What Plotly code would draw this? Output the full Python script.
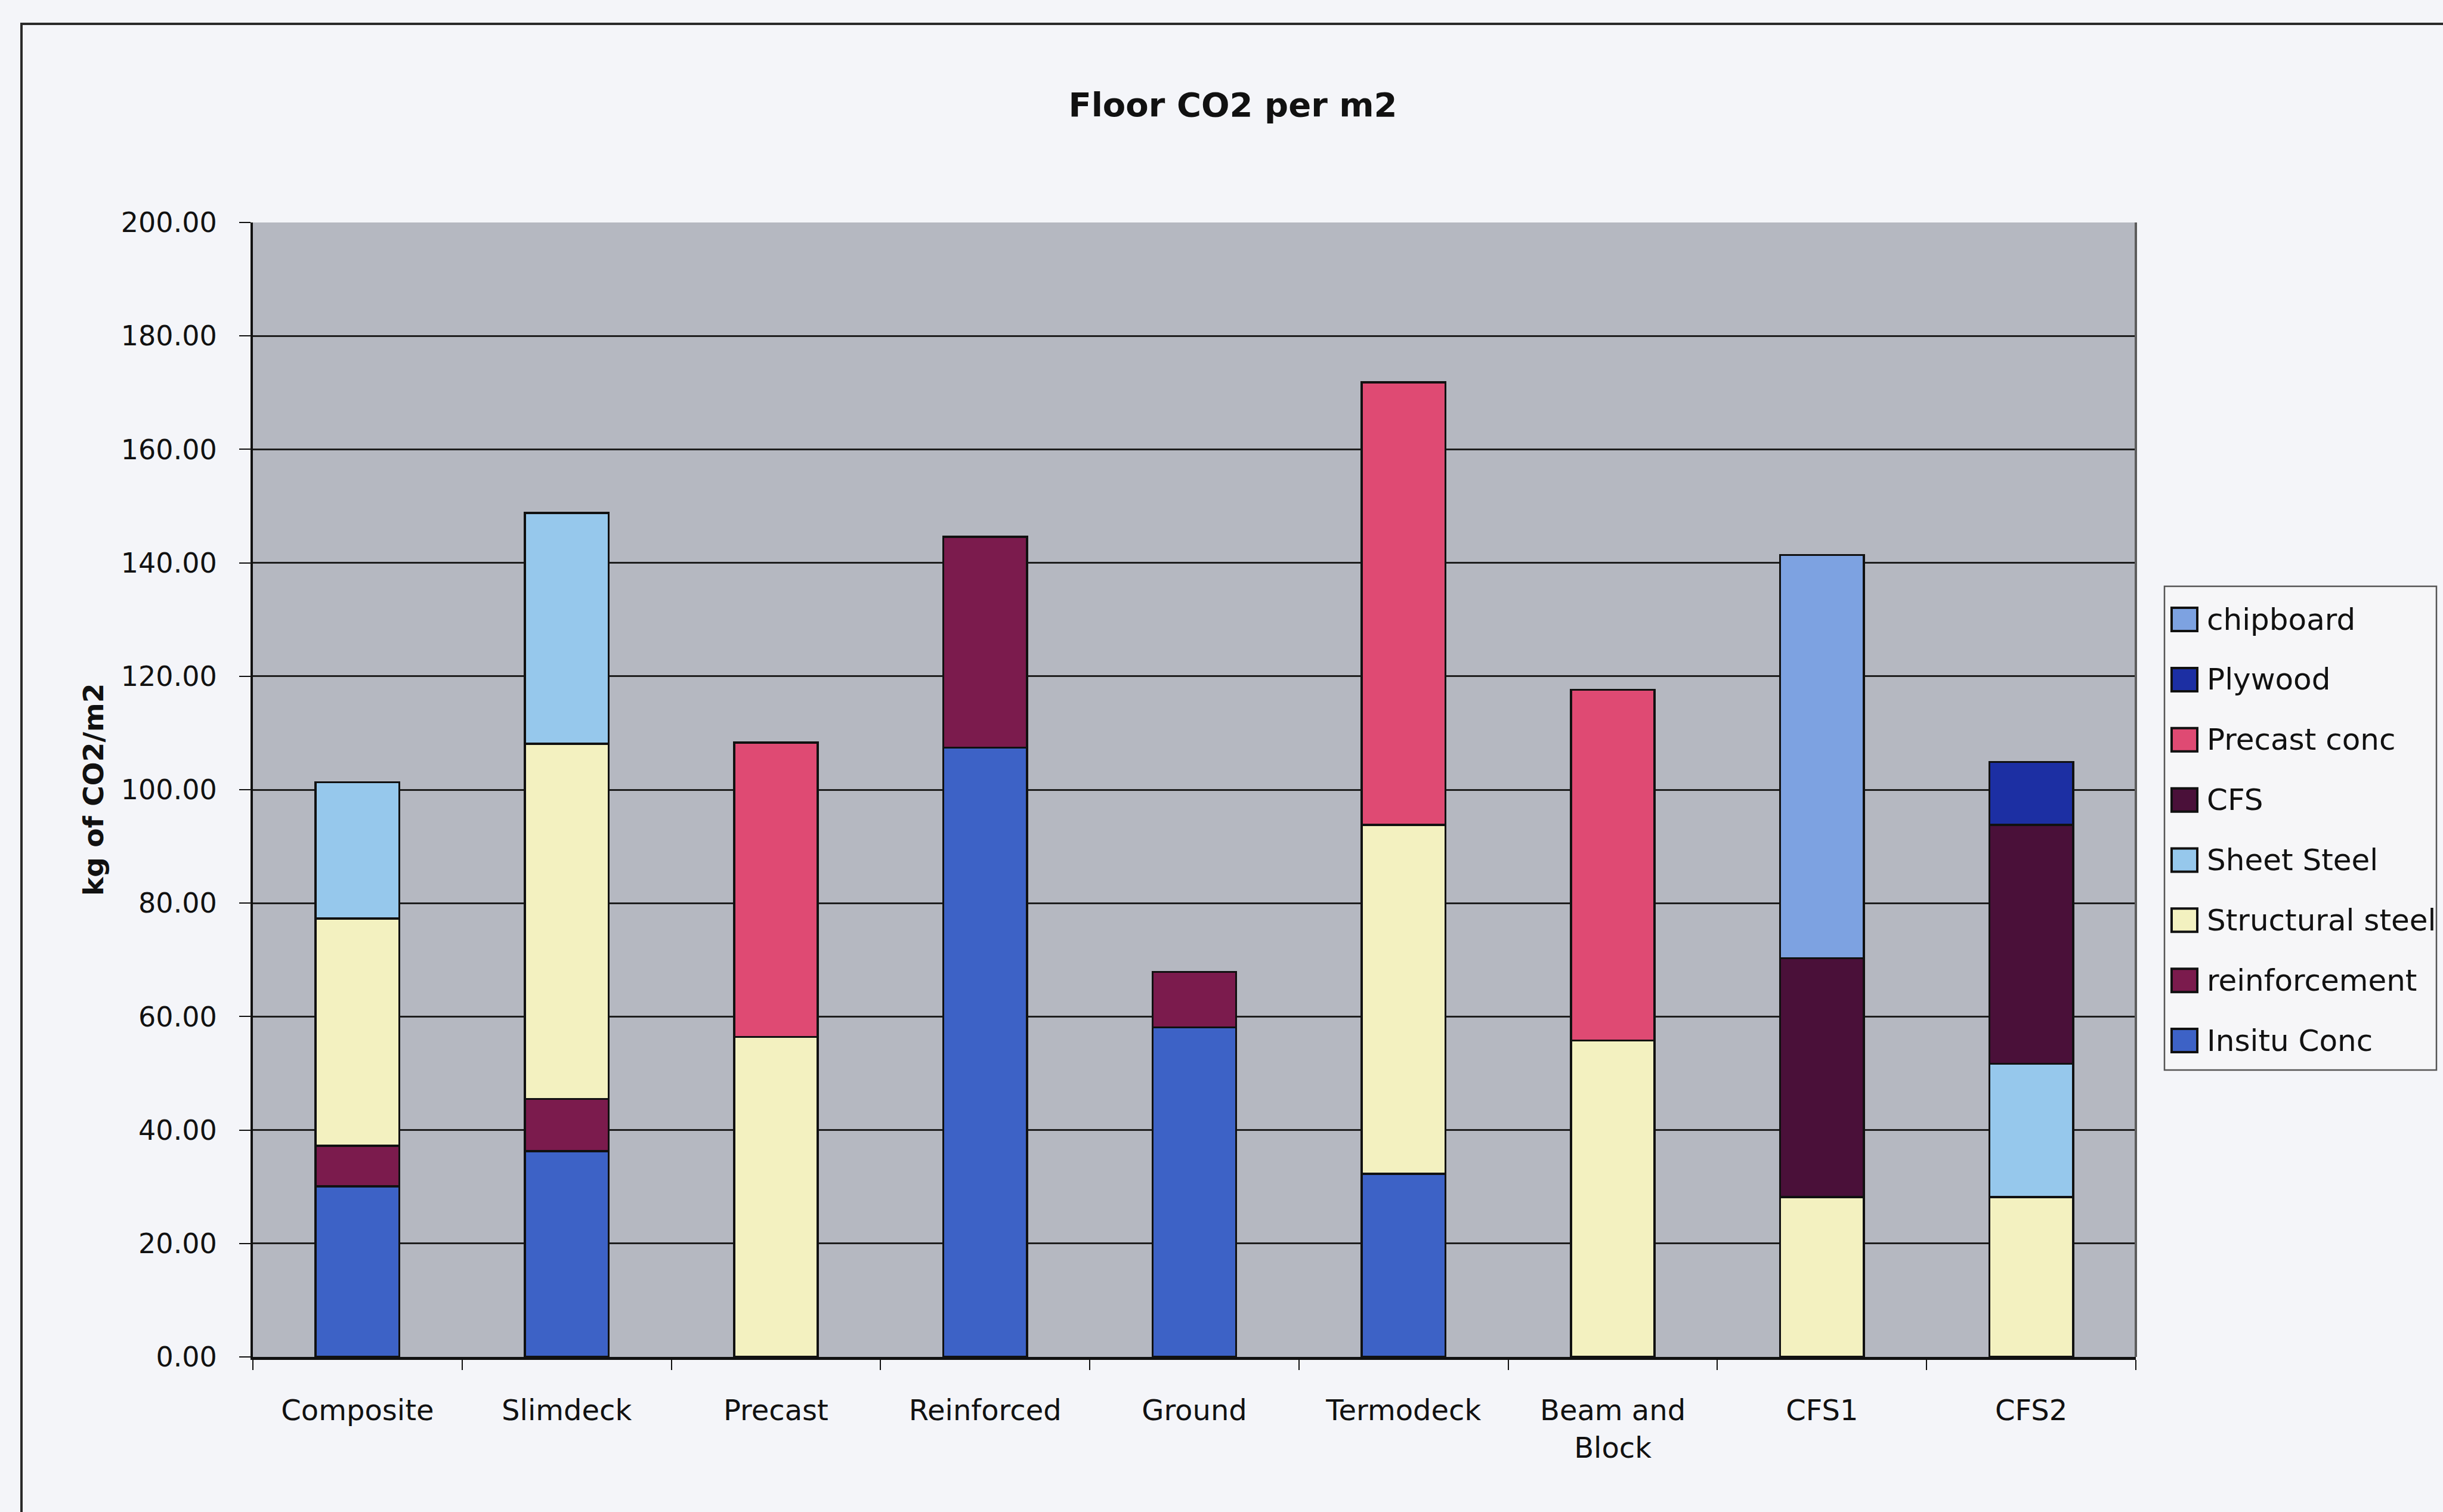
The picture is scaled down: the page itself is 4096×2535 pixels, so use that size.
import plotly.graph_objects as go

# ---- data (kg CO2 per m2 of floor, by material) ----
categories = ["Composite", "Slimdeck", "Precast", "Reinforced", "Ground",
              "Termodeck", "Beam and Block", "CFS1", "CFS2"]
tick_text = ["Composite", "Slimdeck", "Precast", "Reinforced", "Ground",
             "Termodeck", "Beam and<br>Block", "CFS1", "CFS2"]

insitu_conc      = [30.1, 36.3, None, 107.4, 58.1, 32.3, None, None, None]
reinforcement    = [7.1, 9.2, None, 37.2, 9.8, None, None, None, None]
structural_steel = [40.1, 62.6, 56.4, None, None, 61.5, 55.8, 28.2, 28.2]
sheet_steel      = [24.0, 40.7, None, None, None, None, None, None, 23.5]
cfs              = [None, None, None, None, None, None, None, 42.1, 42.1]
precast_conc     = [None, None, 51.9, None, None, 78.0, 61.8, None, None]
plywood          = [None, None, None, None, None, None, None, None, 11.1]
chipboard        = [None, None, None, None, None, None, None, 71.1, None]

# stacking order, bottom to top
series = [
    ("Insitu Conc", insitu_conc, "#3d62c6"),
    ("reinforcement", reinforcement, "#7b1b4d"),
    ("Structural steel", structural_steel, "#f3f1c0"),
    ("Sheet Steel", sheet_steel, "#96c8ec"),
    ("CFS", cfs, "#4a1039"),
    ("Precast conc", precast_conc, "#df4a73"),
    ("Plywood", plywood, "#1c2fa3"),
    ("chipboard", chipboard, "#7da2e1"),
]

y_ticks = list(range(0, 201, 20))

# ---- page geometry (pixels) ----
W, H = 4096, 2535
L, R, T, B = 424, 515, 373, 260
PW, PH = W - L - R, H - T - B
FONT = "DejaVu Sans"
INK = "#111111"


def px(x):
    return (x - L) / PW


def py(y):
    return 1 - (y - T) / PH


fig = go.Figure()
for name, vals, color in series:
    fig.add_trace(go.Bar(
        x=categories, y=vals, name=name,
        marker=dict(color=color, line=dict(color=INK, width=3.5)),
        showlegend=False,
    ))

shapes = [
    # outer chart frame
    dict(type="rect", xref="paper", yref="paper",
         x0=px(36), x1=px(4150), y0=py(40), y1=py(2620),
         line=dict(color="#2a2a2a", width=4), layer="below"),
    # right edge of plot area
    dict(type="line", xref="paper", yref="paper", x0=1, x1=1, y0=0, y1=1,
         line=dict(color="#5c5c5c", width=4)),
]
annotations = [
    dict(text="<b>kg of CO2/m2</b>", xref="paper", yref="paper",
         x=px(156), y=0.5, xanchor="center", yanchor="middle",
         textangle=-90, showarrow=False,
         font=dict(family=FONT, size=47, color=INK)),
]

# legend box, drawn top item first (reverse of stacking order)
LX0, LX1, LY0, LY1 = 3629, 4085, 983, 1794
shapes.append(dict(type="rect", xref="paper", yref="paper",
                   x0=px(LX0), x1=px(LX1), y0=py(LY0), y1=py(LY1),
                   fillcolor="#f6f6f8", line=dict(color="#555555", width=2.5)))
row0, step = 1038.6, 100.85
for i, (name, vals, color) in enumerate(reversed(series)):
    cy = row0 + i * step
    shapes.append(dict(type="rect", xref="paper", yref="paper",
                       x0=px(3641), x1=px(3684),
                       y0=py(cy - 19.5), y1=py(cy + 19.5),
                       fillcolor=color, line=dict(color=INK, width=4)))
    annotations.append(dict(text=name, xref="paper", yref="paper",
                            x=px(3698), y=py(cy), xanchor="left",
                            yanchor="middle", showarrow=False,
                            font=dict(family=FONT, size=50, color=INK)))

fig.update_layout(
    width=W, height=H,
    margin=dict(l=L, r=R, t=T, b=B),
    paper_bgcolor="#f4f5f9",
    plot_bgcolor="#b5b8c1",
    barmode="stack",
    bargap=0.6,
    showlegend=False,
    font=dict(family=FONT, color=INK),
    title=dict(text="<b>Floor CO2 per m2</b>", xref="container",
               yref="container", x=2067 / W, y=1 - 175 / H,
               xanchor="center", yanchor="middle",
               font=dict(family=FONT, size=56, color=INK)),
    xaxis=dict(
        type="category", tickmode="array", tickvals=categories,
        ticktext=tick_text, tickson="boundaries", ticks="outside",
        ticklen=17, tickwidth=2, tickcolor=INK,
        showline=True, linecolor=INK, linewidth=4.5, showgrid=False,
        tickfont=dict(family=FONT, size=48, color=INK),
        ticklabelstandoff=44,
    ),
    yaxis=dict(
        range=[0, 200], tickmode="array", tickvals=y_ticks,
        tickformat=".2f", ticks="outside", ticklen=19, tickwidth=2,
        tickcolor=INK, showline=True, linecolor=INK, linewidth=4,
        showgrid=True, gridcolor="#1e1e1e", gridwidth=2.5, zeroline=False,
        tickfont=dict(family=FONT, size=46, color=INK),
        ticklabelstandoff=28,
    ),
    shapes=shapes,
    annotations=annotations,
)

fig.write_html("out.html")
